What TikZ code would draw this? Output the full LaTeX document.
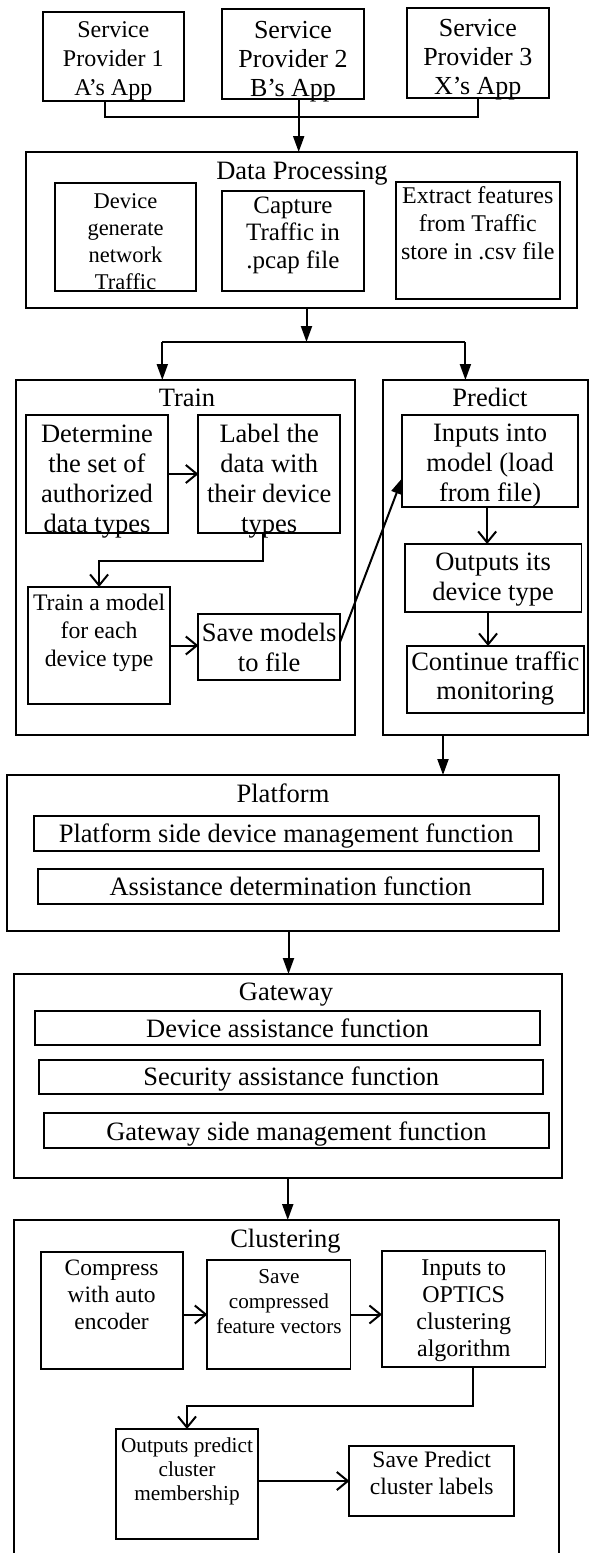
\documentclass[tikz,border=0pt]{standalone}
\usepackage{fontspec}
\setmainfont{Liberation Serif}
\usetikzlibrary{arrows.meta}
\newcommand{\bt}[6]{\parbox[c][#2pt][t]{#1pt}{\centering\fontsize{#4pt}{#5pt}\selectfont\vspace*{#3pt}\strut#6\par}}
\begin{document}
\begin{tikzpicture}[x=1pt,y=-1pt,
  box/.style={draw, line width=1.9pt, inner sep=0pt, outer sep=0pt, anchor=north west},
  frame/.style={draw, line width=2pt, inner sep=0pt, outer sep=0pt, anchor=north west},
  ttl/.style={anchor=base, inner sep=0pt, font=\fontsize{26.5pt}{30pt}\selectfont},
  conn/.style={line width=2pt},
  fa/.style={conn, -{Triangle[length=16pt,width=11pt]}},
  oa/.style={conn, -{Straight Barb[length=11pt,width=18pt]}},
]
\useasboundingbox (0,0) rectangle (589,1553);
\clip (0,0) rectangle (589,1553);
\fill[white] (0,0) rectangle (589,1553);

% Service providers
\node[box] (sp1) at (42.8,12) {\bt{141}{89}{4.7}{24}{29}{Service\\Provider 1\\A’s App}};
\node[box] (sp2) at (222,9) {\bt{142}{90}{9}{26}{29}{Service\\Provider 2\\B’s App}};
\node[box] (sp3) at (406.8,8) {\bt{142}{90}{8.2}{26}{29}{Service\\Provider 3\\X’s App}};

% Data processing
\node[frame, minimum width=551.1pt, minimum height=156pt] (dp) at (25.9,152) {};
\node[ttl] (dpt) at (302,179) {Data Processing};
\node[box] (dev) at (55.2,183) {\bt{140.8}{108}{6.1}{22.5}{27}{Device\\generate\\network\\Traffic}};
\node[box] (cap) at (222,191) {\bt{142}{100}{2.75}{25}{27.5}{Capture\\Traffic in\\.pcap file}};
\node[box] (ext) at (395.6,182) {\bt{164.4}{117}{1.4}{24}{28}{Extract features\\from Traffic\\store in .csv file}};

% Train
\node[frame, minimum width=339.2pt, minimum height=355pt] (train) at (15.8,380) {};
\node[ttl] (trt) at (187,406) {Train};
\node[box] (det) at (26,415) {\bt{142}{118}{6}{26.5}{30}{Determine\\the set of\\authorized\\data types}};
\node[box] (lab) at (198.4,415) {\bt{141.6}{118}{6}{26.5}{30}{Label the\\data with\\their device\\types}};
\node[box] (tm) at (28.2,587) {\bt{141.8}{117}{3.4}{23.7}{28}{Train a model\\for each\\device type}};
\node[box] (sav) at (198.4,614) {\bt{141.6}{66}{6}{26.5}{30}{Save models\\to file}};

% Predict
\node[frame, minimum width=205pt, minimum height=355pt] (predict) at (383,380) {};
\node[ttl] (prt) at (490,406) {Predict};
\node[box] (inp) at (402.3,415) {\bt{175.7}{92}{5}{26.5}{30}{Inputs into\\model (load\\from file)}};
\node[box] (out) at (404.6,544) {\bt{176.9}{68}{5}{26.5}{30}{Outputs its\\device type}};
\node[box] (cont) at (406.8,646) {\bt{177}{67}{4}{26.5}{29}{Continue traffic\\monitoring}};

% Platform
\node[frame, minimum width=552.2pt, minimum height=156pt] (platform) at (6.8,775) {};
\node[ttl] (plt) at (283,802) {Platform};
\node[box] (ps) at (33.8,816) {\bt{504.9}{35}{5}{26.5}{30}{Platform side device management function}};
\node[box] (ad) at (38.3,869) {\bt{504.7}{35}{5}{26.5}{30}{Assistance determination function}};

% Gateway
\node[frame, minimum width=548.5pt, minimum height=204pt] (gateway) at (13.5,974) {};
\node[ttl] (gwt) at (286,1000) {Gateway};
\node[box] (da) at (35,1011) {\bt{505}{34}{5}{26.5}{30}{Device assistance function}};
\node[box] (sa) at (39.4,1060) {\bt{503.6}{34}{4}{26.5}{30}{Security assistance function}};
\node[box] (gs) at (44,1113) {\bt{505}{35}{6}{26.5}{30}{Gateway side management function}};

% Clustering
\node[frame, minimum width=545.5pt, minimum height=400pt] (clust) at (13.5,1220) {};
\node[ttl] (clt) at (285.5,1247) {Clustering};
\node[box] (comp) at (40.6,1252) {\bt{142}{117}{5}{23.5}{27}{Compress\\with auto\\encoder}};
\node[box] (savc) at (207.4,1260) {\bt{143.1}{109}{5.5}{21.2}{25}{Save\\compressed\\feature vectors}};
\node[box] (opt) at (382,1251) {\bt{163.5}{116}{6}{24}{27}{Inputs to\\OPTICS\\clustering\\algorithm}};
\node[box] (outp) at (116,1429) {\bt{142}{110}{6.2}{21.3}{24}{Outputs predict\\cluster\\membership}};
\node[box] (savp) at (349.4,1446) {\bt{164.6}{70}{3}{23.6}{27}{Save Predict\\cluster labels}};

% connectors
\coordinate (bus) at (298.7,117);
\draw[conn] ([xshift=-8.5pt]sp1.south) |- (bus) -| (sp3.south);
\draw[fa] (bus |- sp2.south) -- (bus |- dp.north);

\coordinate (br) at (306.5,342);
\coordinate (brL) at (162.3,342);
\coordinate (brR) at (465.4,342);
\draw[fa] (br |- dp.south) -- (br);
\draw[conn] (brL) -- (brR);
\draw[fa] (brL) -- (brL |- train.north);
\draw[fa] (brR) -- (brR |- predict.north);

\draw[oa] (det.east) -- (det.east -| lab.west);
\coordinate (lbend) at (180,561);
\draw[oa] ([xshift=-6.6pt]lab.south) |- (lbend) -| (tm.north);
\draw[oa] (tm.east) -- (tm.east -| sav.west);
\draw[fa] ([yshift=5pt]sav.east) -- ([yshift=-17pt]inp.west);

\draw[oa] ([xshift=-3pt]inp.south) -- ([xshift=-3pt]inp.south |- out.north);
\draw[oa] ([xshift=-5pt]out.south) -- ([xshift=-5pt]out.south |- cont.north);

\draw[fa] ([xshift=-42.5pt]predict.south) -- ([xshift=-42.5pt]predict.south |- platform.north);
\draw[fa] ([xshift=5.6pt]platform.south) -- ([xshift=5.6pt]platform.south |- gateway.north);
\draw[fa] (gateway.south) -- (gateway.south |- clust.north);

\draw[oa] (savc.west -| comp.east) -- (savc.west);
\draw[oa] (savc.east) -- (savc.east -| opt.west);
\coordinate (obend) at (330,1406);
\draw[oa] ([xshift=9.5pt]opt.south) |- (obend) -| (outp.north);
\draw[oa] (savp.west -| outp.east) -- (savp.west);
\end{tikzpicture}
\end{document}
